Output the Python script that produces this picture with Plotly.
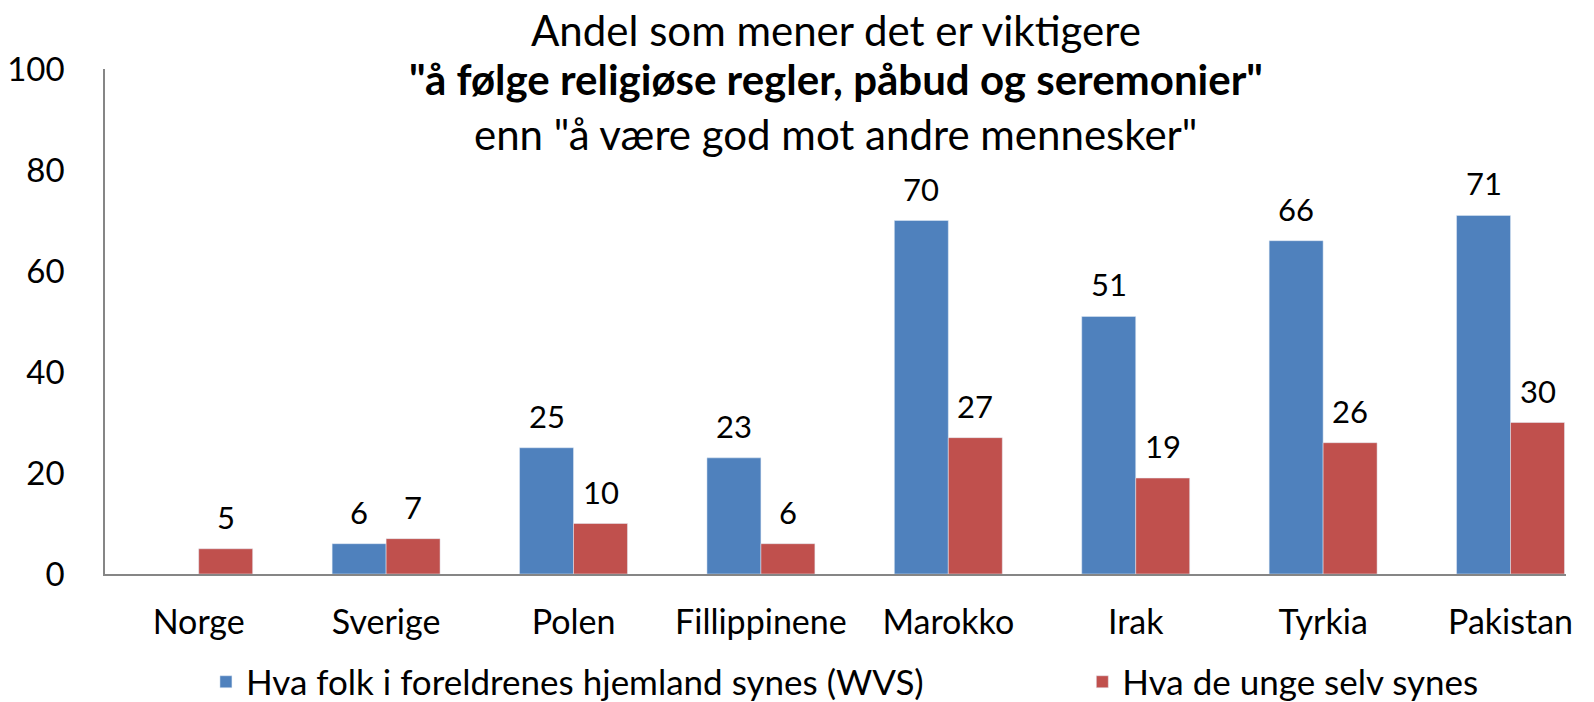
import plotly.graph_objects as go

categories = ["Norge", "Sverige", "Polen", "Fillippinene", "Marokko", "Irak", "Tyrkia", "Pakistan"]
wvs_values = [None, 6, 25, 23, 70, 51, 66, 71]
youth_values = [5, 7, 10, 6, 27, 19, 26, 30]
series_names = ["Hva folk i foreldrenes hjemland synes (WVS)", "Hva de unge selv synes"]
y_ticks = [0, 20, 40, 60, 80, 100]

FONT = "Lato"
BLUE = "#4F81BD"
RED = "#C0504D"

fig = go.Figure()
fig.add_trace(go.Bar(x=categories, y=wvs_values, name=series_names[0],
                     marker=dict(color=BLUE), legend="legend"))
fig.add_trace(go.Bar(x=categories, y=youth_values, name=series_names[1],
                     marker=dict(color=RED), legend="legend2"))

# data labels above each bar
for vals, xs in ((wvs_values, -27), (youth_values, 27)):
    for cat, v in zip(categories, vals):
        if v is None:
            continue
        fig.add_annotation(x=cat, y=v, text=str(v), showarrow=False,
                           xshift=xs, yshift=32, yanchor="middle",
                           font=dict(size=31, family=FONT, color="black"))

H_PLOT = 702 - 69 - 128
LEG_Y = 1 - 682 / 702

fig.update_layout(
    width=1594, height=702,
    paper_bgcolor="white", plot_bgcolor="white",
    margin=dict(l=105, r=28, t=69, b=128, autoexpand=False),
    font=dict(family=FONT, size=30, color="black"),
    barmode="group", bargap=0.424, bargroupgap=0,
    showlegend=True,
    legend=dict(orientation="h", xref="container", x=0.1292, xanchor="left",
                yref="container", y=LEG_Y, yanchor="middle",
                font=dict(size=35, family=FONT), itemwidth=30),
    legend2=dict(orientation="h", xref="container", x=0.679, xanchor="left",
                 yref="container", y=LEG_Y, yanchor="middle",
                 font=dict(size=35, family=FONT), itemwidth=30),
)

fig.update_yaxes(range=[0, 100], tickvals=y_ticks, showgrid=False, zeroline=False,
                 showline=True, linecolor="#868686", linewidth=1.5, automargin=False,
                 ticks="", ticklabelstandoff=32, tickfont=dict(size=33))
fig.update_xaxes(range=[-0.5, 7.296], showgrid=False, showline=True, linecolor="#868686",
                 linewidth=1.5, ticks="", ticklabelstandoff=17, automargin=False,
                 tickfont=dict(size=34))

title_lines = [
    ("Andel som mener det er viktigere", False, 30),
    ('"å følge religiøse regler, påbud og seremonier"', True, 79),
    ('enn "å være god mot andre mennesker"', False, 134),
]
for text, bold, ypx in title_lines:
    fig.add_annotation(
        text=f"<b>{text}</b>" if bold else text,
        xref="paper", yref="paper", x=0.5, xanchor="center",
        y=1 + (69 - ypx) / H_PLOT, yanchor="middle",
        showarrow=False, font=dict(size=42, family=FONT, color="black"),
    )

fig.write_html("out.html", config={"displayModeBar": False},
               post_script="document.body.style.margin='0';")
